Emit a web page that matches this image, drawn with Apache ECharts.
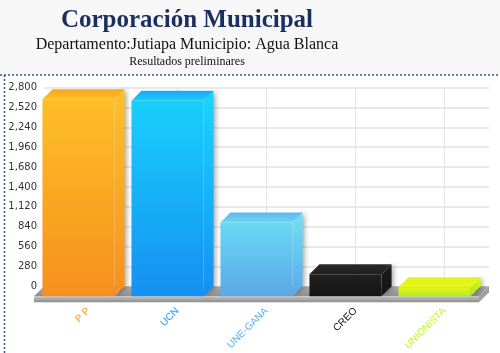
<!DOCTYPE html>
<html>
<head>
<meta charset="utf-8">
<script src="https://cdn.jsdelivr.net/npm/echarts@6/dist/echarts.min.js"></script>
<style>
  html, body { margin: 0; padding: 0; background: #ffffff; }
  #chart { width: 500px; height: 353px; }
</style>
</head>
<body>
<div id="chart"></div>
<script>
// datos del gráfico
var partidos = ['P P', 'UCN', 'UNE-GANA', 'CREO', 'UNIONISTA'];
var votos = [2775, 2755, 1040, 310, 130];
var colorEtiqueta = ['#f89b2c', '#2a9bf5', '#5cb0ec', '#111111', '#c6f522'];
// colores de cada barra: [frente arriba, frente abajo, tapa, lado]
var coloresBarra = [
  ['#fdbf27', '#f78f1e', '#f9a51f', '#fdc22a'],
  ['#19cffd', '#1590f0', '#1aa6f6', '#1ad6fe'],
  ['#6ad8f5', '#5aa7e6', '#5db6ec', '#70e2f8'],
  ['#202020', '#151515', '#2a2a2a', '#1c1c1c'],
  ['#e8f51c', '#b0ee1c', '#def51a', '#d6f31a']
];
var yMax = 2800;
var yPaso = 280;

var PROF = 10; // profundidad 3D

var chart = echarts.init(document.getElementById('chart'));

function grad(c1, c2) {
  return new echarts.graphic.LinearGradient(0, 0, 0, 1, [
    { offset: 0, color: c1 },
    { offset: 1, color: c2 }
  ]);
}

// piso y lineas verticales de la cuadricula
function renderPiso(params, api) {
  var cs = params.coordSys;
  var x = cs.x, y = cs.y, w = cs.width, h = cs.height;
  var yb = y + h;
  var children = [];
  for (var i = 0; i < partidos.length; i++) {
    var p = api.coord([i, 0]);
    children.push({
      type: 'line',
      shape: { x1: p[0], y1: y, x2: p[0], y2: yb },
      style: { stroke: '#e4e4e4', lineWidth: 1 }
    });
  }
  children.push({
    type: 'polygon',
    shape: { points: [[x, yb], [x + w, yb], [x + w - PROF, yb + PROF], [x - PROF, yb + PROF]] },
    style: { fill: grad('#aaaaaa', '#8e8e8e') }
  });
  children.push({
    type: 'rect',
    shape: { x: x - PROF, y: yb + PROF, width: w, height: 6 },
    style: { fill: grad('#c4c4c4', '#8a8a8a') }
  });
  children.push({
    type: 'polygon',
    shape: { points: [[x + w - PROF, yb + PROF], [x + w, yb], [x + w, yb + 6], [x + w - PROF, yb + PROF + 6]] },
    style: { fill: '#a0a0a0' }
  });
  return { type: 'group', children: children };
}

// barra con aspecto 3D
function renderBarra(params, api) {
  var i = params.dataIndex;
  var base = api.coord([api.value(0), 0]);
  var tope = api.coord([api.value(0), api.value(1)]);
  var ancho = api.size([1, 0])[0] * 0.81;
  var x0 = base[0] - PROF - ancho / 2;
  var x1 = x0 + ancho;
  var yt = tope[1] + PROF;
  var yb = base[1] + PROF;
  var c = coloresBarra[i];
  return {
    type: 'group',
    children: [
      {
        type: 'polygon',
        shape: { points: [[x1, yt], [x1 + PROF, yt - PROF], [x1 + PROF, yb - PROF], [x1, yb]] },
        style: { fill: grad(c[3], c[1]), shadowBlur: 5, shadowColor: 'rgba(0,0,0,0.35)', shadowOffsetX: 2 }
      },
      {
        type: 'rect',
        shape: { x: x0, y: yt, width: ancho, height: yb - yt },
        style: { fill: grad(c[0], c[1]) }
      },
      {
        type: 'polygon',
        shape: { points: [[x0, yt], [x1, yt], [x1 + PROF, yt - PROF], [x0 + PROF, yt - PROF]] },
        style: { fill: new echarts.graphic.LinearGradient(0, 1, 0, 0, [
          { offset: 0, color: c[0] }, { offset: 1, color: c[2] }
        ]) }
      }
    ]
  };
}

var option = {
  backgroundColor: '#ffffff',
  animation: false,
  graphic: [
    { type: 'rect', z: -10, shape: { x: 0, y: 0, width: 500, height: 75 }, style: { fill: '#f7f7f7' } },
    { type: 'line', shape: { x1: 0, y1: 75, x2: 500, y2: 75 }, style: { stroke: '#34548e', lineWidth: 1.5, lineDash: [2, 2] } },
    { type: 'line', shape: { x1: 4.5, y1: 75, x2: 4.5, y2: 353 }, style: { stroke: '#34548e', lineWidth: 1.5, lineDash: [2, 2] } },
    { type: 'text', x: 187, y: 33, style: { text: 'Corporación Municipal', fill: '#1b2f5e', font: 'bold 25px "Liberation Serif", serif', textAlign: 'center', textVerticalAlign: 'bottom' } },
    { type: 'text', x: 187, y: 53, style: { text: 'Departamento:Jutiapa Municipio: Agua Blanca', fill: '#111111', font: '16px "Liberation Serif", serif', textAlign: 'center', textVerticalAlign: 'bottom' } },
    { type: 'text', x: 187, y: 68, style: { text: 'Resultados preliminares', fill: '#111111', font: '12px "Liberation Serif", serif', textAlign: 'center', textVerticalAlign: 'bottom' } }
  ],
  grid: {
    left: 44,
    right: 11,
    top: 87.5,
    bottom: 65.5
  },
  xAxis: {
    type: 'category',
    data: partidos.map(function (p, i) {
      return { value: p, textStyle: { color: colorEtiqueta[i] } };
    }),
    offset: 17,
    axisLine: { show: false },
    axisTick: { show: true, alignWithLabel: true, length: 4, lineStyle: { color: '#999999' } },
    axisLabel: { rotate: 45, fontSize: 10, margin: 6, fontFamily: '"Liberation Sans", Arial, sans-serif' },
    splitLine: { show: false }
  },
  yAxis: {
    type: 'value',
    min: 0,
    max: yMax,
    interval: yPaso,
    axisLine: { show: false },
    axisTick: { show: false },
    axisLabel: {
      color: '#333333',
      fontSize: 10,
      margin: 7,
      padding: [5, 0, 0, 0],
      fontFamily: '"DejaVu Sans", Verdana, sans-serif',
      formatter: function (v) { return v.toLocaleString('en-US'); }
    },
    splitLine: { lineStyle: { color: '#e2e2e2', width: 1.5 } }
  },
  series: [
    {
      type: 'custom',
      renderItem: renderPiso,
      data: [[0, 0]],
      silent: true,
      z: 1
    },
    {
      type: 'custom',
      renderItem: renderBarra,
      encode: { x: 0, y: 1 },
      data: votos.map(function (v, i) { return [i, v]; }),
      z: 2
    }
  ]
};

chart.setOption(option);
</script>
</body>
</html>
